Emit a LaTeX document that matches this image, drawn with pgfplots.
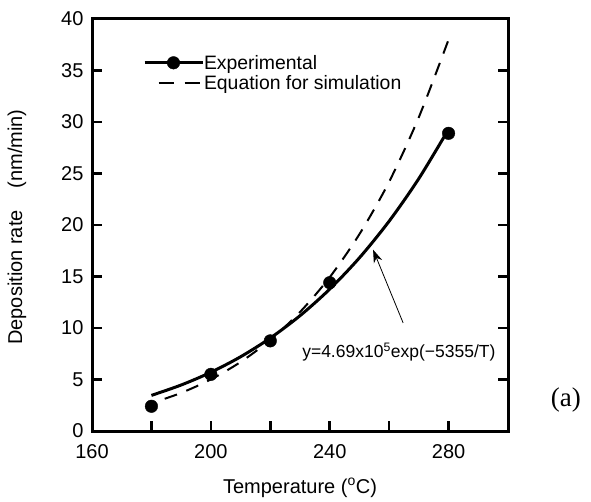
\documentclass[border=0pt]{standalone}
\usepackage{fontspec}
\setmainfont{Liberation Sans}
\newfontfamily\timesfont{Liberation Serif}
\usepackage{pgfplots}
\pgfplotsset{compat=1.18}
\usetikzlibrary{arrows.meta}
\pgfplotsset{
  legA/.style={legend image code/.code={\draw[mark repeat=2,mark phase=2,##1] plot coordinates {(0pt,0pt) (29pt,0pt) (58pt,0pt)};}},
  legB/.style={legend image code/.code={\draw[##1] (14pt,0pt) -- (55pt,0pt);}},
}
\begin{document}
\begin{tikzpicture}
\useasboundingbox (-92pt,-70pt) rectangle (499pt,431pt);
\begin{axis}[
  at={(0pt,0pt)}, anchor=south west,
  scale only axis, width=416pt, height=412pt,
  xmin=160, xmax=300, ymin=0, ymax=40,
  xtick={160,180,...,300},
  xticklabels={160,,200,,240,,280,},
  ytick={0,5,...,40},
  xtick pos=lower, ytick pos=both,
  tick align=inside,
  major tick length=10pt,
  tick style={line width=2.5pt, black},
  axis line style={line width=3pt},
  /pgf/number format/assume math mode=true,
  tick label style={font=\fontsize{20}{24}\selectfont},
  yticklabel style={xshift=-5pt},
  xticklabel style={yshift=-10pt},
  clip=false,
  legend cell align=left,
  legend style={draw=none, fill=none, at={(axis description cs:0.1226,0.915)}, anchor=north west,
    inner sep=0pt, outer sep=0pt, row sep=3pt, column sep=0pt,
    nodes={inner xsep=0pt, inner ysep=1pt, font=\fontsize{19.4}{23}\selectfont}},
]
\addlegendimage{black, line width=3pt, mark=*, mark size=6.3pt, mark options={line width=0.4pt, fill=black}, legA}
\addlegendentry{Experimental}
\addlegendimage{black, line width=2pt, dash pattern=on 15pt off 11pt, legB}
\addlegendentry{Equation for simulation}

% equation curve y=4.69e5 exp(-5355/T)
\addplot[black, line width=3pt, smooth, forget plot] coordinates {
 (180,3.459) (190,4.465) (200,5.700) (210,7.206) (220,9.021) (230,11.194)
 (240,13.773) (250,16.815) (260,20.374) (270,24.512) (280,29.297)};
% equation for simulation (dashed)
\addplot[black, line width=2pt, smooth, dash pattern=on 13pt off 10pt, dash phase=9pt, forget plot] coordinates {
 (180,2.70) (190,3.70) (200,5.01) (210,6.70) (220,8.84) (230,11.55)
 (240,14.93) (250,19.11) (260,24.2) (270,30.47) (280,38.0)};
% experimental points
\addplot[only marks, mark=*, mark size=6.3pt, mark options={black, fill=black, line width=0.4pt}, forget plot] coordinates {
 (180,2.4) (200,5.5) (220,8.75) (240,14.4) (280,28.9)};

\draw[line width=0.8pt, -{Stealth[length=13pt, width=9pt]}] (axis cs:264.7,10.5) -- (axis cs:254.6,17.6);
\node[anchor=west, inner sep=0pt, font=\fontsize{17.5}{20}\selectfont] at (axis cs:230.7,7.67)
  {y=4.69x10\textsuperscript{5}exp(−5355/T)};
\node[inner sep=0pt, font=\timesfont\fontsize{27}{30}\selectfont] at (axis cs:319.5,3.0) {(a)};
\end{axis}
\node[rotate=90, font=\fontsize{20}{24}\selectfont] at ([xshift=-75pt,yshift=-2pt]current axis.west)
  {Deposition rate\hspace{1.1em}(nm/min)};
\node[font=\fontsize{20}{24}\selectfont] at ([yshift=-57pt]current axis.south)
  {Temperature (\textsuperscript{o}C)};
\end{tikzpicture}
\end{document}
